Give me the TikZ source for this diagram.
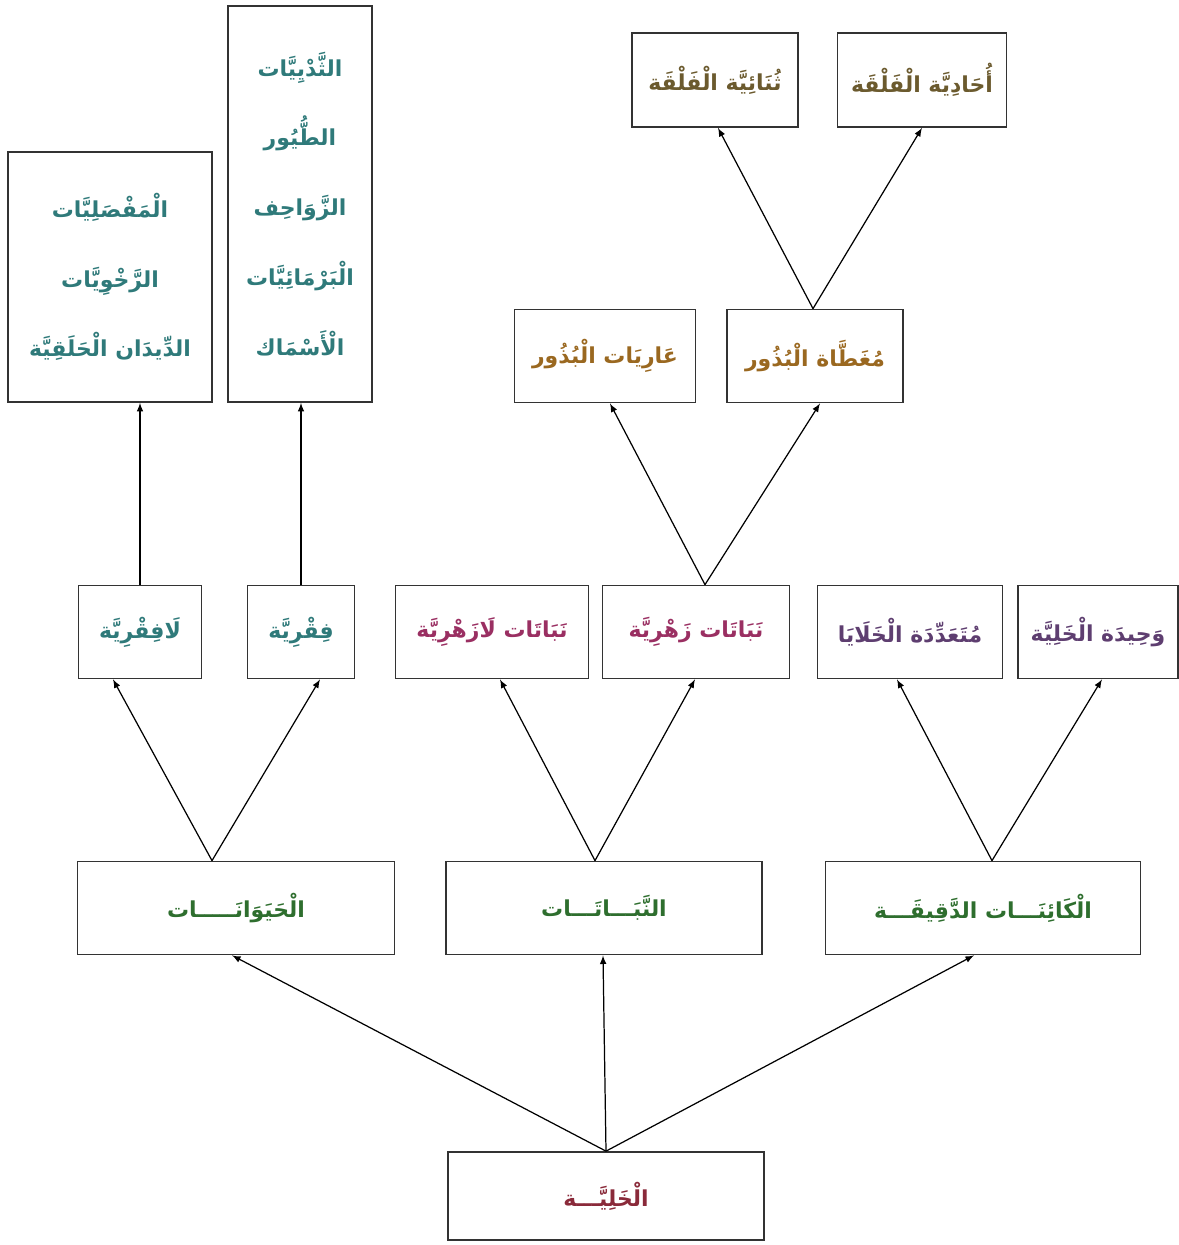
\documentclass[tikz,border=0pt]{standalone}
\usepackage{fontspec}
\newfontfamily\arabicfont[Script=Arabic]{DejaVu Sans}
\TeXXeTstate=1
\usetikzlibrary{arrows}

\definecolor{tealtxt}{HTML}{2F7A7A}
\definecolor{olivetxt}{HTML}{6B5A2E}
\definecolor{seedtxt}{HTML}{9A6820}
\definecolor{planttxt}{HTML}{9A2F62}
\definecolor{celltxt}{HTML}{5E3E70}
\definecolor{maintxt}{HTML}{2E6E2E}
\definecolor{roottxt}{HTML}{8A2A3A}

\newcommand{\artxt}[1]{\beginR #1\endR}

\begin{document}
\begin{tikzpicture}[->,>=latex,x=0.02cm,y=-0.02cm,
    box/.style={draw=black!80,line width=1pt,rectangle,inner sep=0pt,
      font=\arabicfont\bfseries\fontsize{12.5}{15}\selectfont},
    lst/.style={box,align=center,text=tealtxt,
      font=\arabicfont\bfseries\fontsize{12.5}{39.7}\selectfont},
    every edge/.style={draw,line width=0.7pt}]
    \useasboundingbox (0,0) rectangle (1179,1245);
    % level 0
    \node[box,text=roottxt,minimum width=6.32cm,minimum height=1.76cm] (cell) at (606,1196) {\artxt{الْخَلِيَّـــة}};
    % level 1
    \node[box,text=maintxt,minimum width=6.34cm,minimum height=1.86cm] (anim) at (236,908) {\artxt{الْحَيَوَانَـــــات}};
    \node[box,text=maintxt,minimum width=6.32cm,minimum height=1.86cm] (plant) at (604,908) {\artxt{النَّبَـــاتَـــات}};
    \node[box,text=maintxt,minimum width=6.3cm,minimum height=1.86cm] (micro) at (983,908) {\artxt{الْكَائِنَـــات الدَّقِيقَـــة}};
    % level 2
    \node[box,text=tealtxt,minimum width=2.46cm,minimum height=1.86cm] (invert) at (140,632) {\artxt{لَافِقْرِيَّة}};
    \node[box,text=tealtxt,minimum width=2.14cm,minimum height=1.86cm] (vert) at (301,632) {\artxt{فِقْرِيَّة}};
    \node[box,text=planttxt,minimum width=3.86cm,minimum height=1.86cm] (nonflow) at (492,632) {\artxt{نَبَاتَات لَازَهْرِيَّة}};
    \node[box,text=planttxt,minimum width=3.74cm,minimum height=1.86cm] (flow) at (696,632) {\artxt{نَبَاتَات زَهْرِيَّة}};
    \node[box,text=celltxt,minimum width=3.7cm,minimum height=1.86cm] (multi) at (910,632) {\artxt{مُتَعَدِّدَة الْخَلَايَا}};
    \node[box,text=celltxt,minimum width=3.2cm,minimum height=1.86cm] (uni) at (1098,632) {\artxt{وَحِيدَة الْخَلِيَّة}};
    % level 3
    \node[box,text=seedtxt,minimum width=3.62cm,minimum height=1.86cm] (gymno) at (605,356) {\artxt{عَارِيَات الْبُذُور}};
    \node[box,text=seedtxt,minimum width=3.52cm,minimum height=1.86cm] (angio) at (815,356) {\artxt{مُغَطَّاة الْبُذُور}};
    \node[box,text=olivetxt,minimum width=3.32cm,minimum height=1.88cm] (dicot) at (715,80) {\artxt{ثُنَائِيَّة الْفَلْقَة}};
    \node[box,text=olivetxt,minimum width=3.38cm,minimum height=1.88cm] (monocot) at (922,80) {\artxt{أُحَادِيَّة الْفَلْقَة}};
    % lists
    \node[lst,minimum width=4.08cm,minimum height=5cm] (invlist) at (110,277)
      {\artxt{الْمَفْصَلِيَّات}\\\artxt{الرَّخْوِيَّات}\\\artxt{الدِّيدَان الْحَلَقِيَّة}};
    \node[lst,minimum width=2.88cm,minimum height=7.92cm] (vertlist) at (300,204)
      {\artxt{الثَّدْيِيَّات}\\\artxt{الطُّيُور}\\\artxt{الزَّوَاحِف}\\\artxt{الْبَرْمَائِيَّات}\\\artxt{الْأَسْمَاك}};
    % arrows
    \path (cell.north) edge ([xshift=-0.08cm]anim.south);
    \path (cell.north) edge ([xshift=-0.02cm]plant.south);
    \path (cell.north) edge ([xshift=-0.18cm]micro.south);
    \path ([xshift=-0.48cm]anim.north) edge ([xshift=-0.54cm]invert.south);
    \path ([xshift=-0.48cm]anim.north) edge ([xshift=0.38cm]vert.south);
    \path ([xshift=-0.18cm]plant.north) edge ([xshift=0.16cm]nonflow.south);
    \path ([xshift=-0.18cm]plant.north) edge ([xshift=-0.02cm]flow.south);
    \path ([xshift=0.18cm]micro.north) edge ([xshift=-0.26cm]multi.south);
    \path ([xshift=0.18cm]micro.north) edge ([xshift=0.08cm]uni.south);
    \path (invert.north) edge (invert.north |- invlist.south);
    \path (vert.north) edge (vert.north |- vertlist.south);
    \path ([xshift=0.18cm]flow.north) edge ([xshift=0.1cm]gymno.south);
    \path ([xshift=0.18cm]flow.north) edge ([xshift=0.1cm]angio.south);
    \path ([xshift=-0.04cm]angio.north) edge ([xshift=0.06cm]dicot.south);
    \path ([xshift=-0.04cm]angio.north) edge (monocot.south);
\end{tikzpicture}
\end{document}
